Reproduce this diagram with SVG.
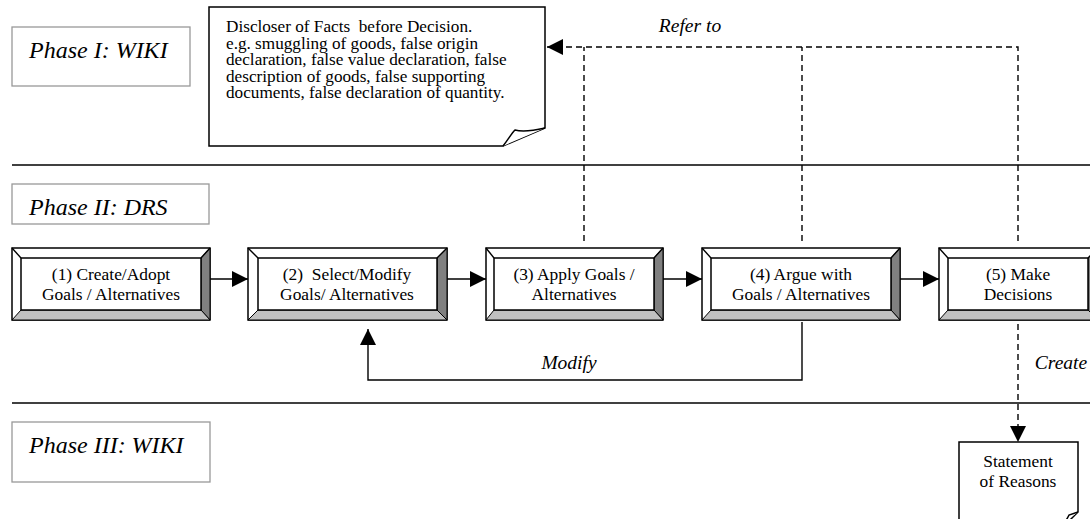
<svg xmlns="http://www.w3.org/2000/svg" width="1090" height="519" viewBox="0 0 1090 519">
<defs>
<style>
.phase{fill:#fff;stroke:#999;stroke-width:1.3}
.ptxt{font-family:"Liberation Serif",serif;font-style:italic;font-size:24px;fill:#000}
.lbl{font-family:"Liberation Serif",serif;font-style:italic;font-size:19.5px;fill:#000;text-anchor:middle}
.txt{font-family:"Liberation Serif",serif;font-size:17.4px;fill:#000}
.ntxt{font-family:"Liberation Serif",serif;font-size:17.2px;fill:#000}
.ctr{text-anchor:middle}
.ln{stroke:#000;stroke-width:1.4;fill:none}
.dash{stroke:#000;stroke-width:1.4;fill:none;stroke-dasharray:6,4}
.out{fill:#fff;stroke:#000;stroke-width:1.5}
.dk{fill:#808080;stroke:#000;stroke-width:1}
.lt{fill:#c0c0c0;stroke:#000;stroke-width:1}
.in{fill:#fff;stroke:#000;stroke-width:1.5}
.note{fill:#fff;stroke:#000;stroke-width:1.5}
</style>
<marker id="ah" viewBox="0 0 16 16" refX="16" refY="8" markerWidth="16" markerHeight="16" markerUnits="userSpaceOnUse" orient="auto">
<path d="M0,0 L16,8 L0,16 Z" fill="#000"/>
</marker>
</defs>

<!-- separators -->
<g id="separators">
<line x1="12" y1="165" x2="1090" y2="165" class="ln"/>
<line x1="12" y1="403" x2="1090" y2="403" class="ln"/>
</g>

<!-- phase labels -->
<g id="phase1"><rect x="12" y="27" width="178" height="59" class="phase"/><text x="29" y="58" class="ptxt">Phase I: WIKI</text></g>
<g id="phase2"><rect x="12" y="184" width="197" height="40" class="phase"/><text x="29" y="215" class="ptxt">Phase II: DRS</text></g>
<g id="phase3"><rect x="12" y="422" width="198" height="60" class="phase"/><text x="29" y="453" class="ptxt">Phase III: WIKI</text></g>

<!-- connectors -->
<g id="connectors">
<line x1="210" y1="279" x2="248" y2="279" class="ln" marker-end="url(#ah)"/>
<line x1="447" y1="279" x2="486" y2="279" class="ln" marker-end="url(#ah)"/>
<line x1="663" y1="279" x2="702" y2="279" class="ln" marker-end="url(#ah)"/>
<line x1="900" y1="279" x2="939" y2="279" class="ln" marker-end="url(#ah)"/>
<path d="M802,322 V380 H368 V329" class="ln" marker-end="url(#ah)"/>
<path d="M1018,241 V47 H547" class="dash" marker-end="url(#ah)"/>
<path d="M584,241 V47" class="dash"/>
<path d="M802,241 V47" class="dash"/>
<path d="M1018,324 V442" class="dash" marker-end="url(#ah)"/>
<text x="690" y="32" class="lbl">Refer to</text>
<text x="569" y="369" class="lbl">Modify</text>
<text x="1061" y="369" class="lbl">Create</text>
</g>

<!-- note: disclosure -->
<g id="note-facts">
<path d="M209,7 H545 V128 L503,146 H209 Z" class="note"/>
<path d="M503,146 C508,140 511,134 515,130 C522,132 532,131 545,128" class="note" stroke-width="1.2"/>
<text class="ntxt" x="226" xml:space="preserve">
<tspan x="226" y="32">Discloser of Facts  before Decision.</tspan>
<tspan x="226" y="48.5">e.g. smuggling of goods, false origin</tspan>
<tspan x="226" y="65">declaration, false value declaration, false</tspan>
<tspan x="226" y="81.5">description of goods, false supporting</tspan>
<tspan x="226" y="98">documents, false declaration of quantity.</tspan>
</text>
</g>

<!-- bevel boxes -->
<g id="node1">
<rect x="12" y="248" width="198" height="72" class="out"/>
<polygon points="210,248 210,320 201,310 201,258" class="dk"/>
<polygon points="12,320 210,320 201,310 21,310" class="lt"/>
<line x1="12" y1="248" x2="21" y2="258" class="ln" stroke-width="1"/>
<line x1="210" y1="248" x2="201" y2="258" class="ln" stroke-width="1"/>
<rect x="21" y="258" width="180" height="52" class="in"/>
<text class="txt ctr"><tspan x="111" y="280">(1) Create/Adopt</tspan><tspan x="111" y="300">Goals / Alternatives</tspan></text>
</g>
<g id="node2">
<rect x="248" y="248" width="199" height="72" class="out"/>
<polygon points="447,248 447,320 437,310 437,258" class="dk"/>
<polygon points="248,320 447,320 437,310 258,310" class="lt"/>
<line x1="248" y1="248" x2="258" y2="258" class="ln" stroke-width="1"/>
<line x1="447" y1="248" x2="437" y2="258" class="ln" stroke-width="1"/>
<rect x="258" y="258" width="179" height="52" class="in"/>
<text class="txt ctr" xml:space="preserve"><tspan x="347" y="280">(2)  Select/Modify</tspan><tspan x="347" y="300">Goals/ Alternatives</tspan></text>
</g>
<g id="node3">
<rect x="486" y="248" width="177" height="72" class="out"/>
<polygon points="663,248 663,320 654,310 654,258" class="dk"/>
<polygon points="486,320 663,320 654,310 494,310" class="lt"/>
<line x1="486" y1="248" x2="494" y2="258" class="ln" stroke-width="1"/>
<line x1="663" y1="248" x2="654" y2="258" class="ln" stroke-width="1"/>
<rect x="494" y="258" width="160" height="52" class="in"/>
<text class="txt ctr"><tspan x="574" y="280">(3) Apply Goals /</tspan><tspan x="574" y="300">Alternatives</tspan></text>
</g>
<g id="node4">
<rect x="702" y="248" width="198" height="72" class="out"/>
<polygon points="900,248 900,320 891,310 891,258" class="dk"/>
<polygon points="702,320 900,320 891,310 711,310" class="lt"/>
<line x1="702" y1="248" x2="711" y2="258" class="ln" stroke-width="1"/>
<line x1="900" y1="248" x2="891" y2="258" class="ln" stroke-width="1"/>
<rect x="711" y="258" width="180" height="52" class="in"/>
<text class="txt ctr"><tspan x="801" y="280">(4) Argue with</tspan><tspan x="801" y="300">Goals / Alternatives</tspan></text>
</g>
<g id="node5">
<rect x="939" y="248" width="159" height="72" class="out"/>
<polygon points="1098,248 1098,320 1088,310 1088,258" class="dk"/>
<polygon points="939,320 1098,320 1088,310 948,310" class="lt"/>
<line x1="939" y1="248" x2="948" y2="258" class="ln" stroke-width="1"/>
<line x1="1098" y1="248" x2="1088" y2="258" class="ln" stroke-width="1"/>
<rect x="948" y="258" width="140" height="52" class="in"/>
<text class="txt ctr"><tspan x="1018" y="280">(5) Make</tspan><tspan x="1018" y="300">Decisions</tspan></text>
</g>

<!-- note: statement of reasons -->
<g id="note-statement">
<path d="M959,530 V442 H1078 V512 L1060,530" class="note"/>
<path d="M1078,512 L1069,515 C1068,517 1067,519 1065,522" class="note" stroke-width="1.2"/>
<text class="txt ctr"><tspan x="1018" y="467">Statement</tspan><tspan x="1018" y="487">of Reasons</tspan></text>
</g>
</svg>
